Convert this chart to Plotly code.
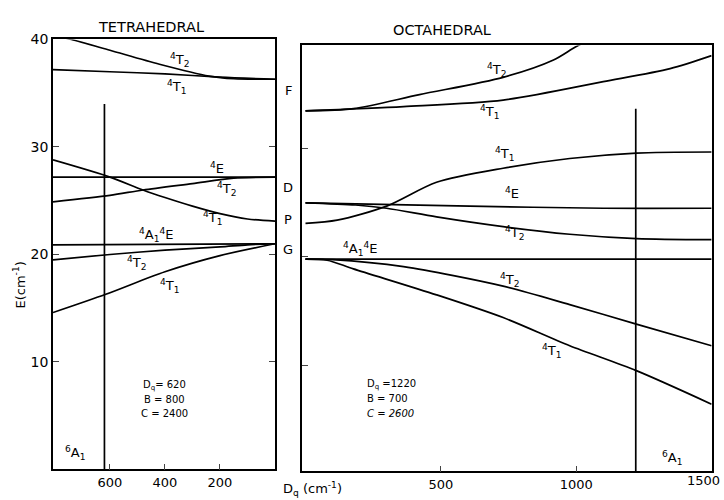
import plotly.graph_objects as go

# ---------------- Tetrahedral panel data (Dq decreasing to the right) ----------------
tet_T2_top_dq = [807, 740, 600, 420, 240, 150, 0]
tet_T2_top_E = [40.4, 40.0, 39.0, 37.7, 36.6, 36.35, 36.3]
tet_T1_top_dq = [807, 600, 400, 200, 0]
tet_T1_top_E = [37.2, 37.0, 36.8, 36.5, 36.3]
tet_E_dq = [807, 0]
tet_E_E = [27.2, 27.2]
tet_T1_mid_dq = [807, 600, 480, 400, 300, 200, 100, 0]
tet_T1_mid_E = [28.8, 27.2, 26.0, 25.3, 24.5, 23.8, 23.3, 23.1]
tet_T2_mid_dq = [807, 600, 480, 300, 150, 0]
tet_T2_mid_E = [24.9, 25.5, 26.0, 26.6, 27.1, 27.2]
tet_A1E_dq = [807, 0]
tet_A1E_E = [20.9, 21.0]
tet_T2_low_dq = [807, 600, 400, 200, 100, 0]
tet_T2_low_E = [19.5, 20.0, 20.4, 20.7, 20.9, 21.0]
tet_T1_low_dq = [807, 615, 400, 200, 0]
tet_T1_low_E = [14.6, 16.3, 18.4, 19.9, 21.0]
tet_vline_dq = [620, 620]
tet_vline_E = [0, 34.0]

# ---------------- Octahedral panel data ----------------
oct_T2_top_dq = [0, 177, 421, 730, 916, 997, 1060]
oct_T2_top_E = [33.5, 33.7, 35.0, 36.6, 38.2, 39.4, 40.2]
oct_T1_top_dq = [0, 362, 730, 1100, 1347, 1500]
oct_T1_top_E = [33.5, 33.9, 34.5, 36.2, 37.4, 38.6]
oct_T1_mid_dq = [0, 117, 300, 484, 730, 976, 1222, 1500]
oct_T1_mid_E = [23.1, 23.4, 24.7, 26.9, 28.2, 29.1, 29.6, 29.7]
oct_E_dq = [0, 607, 1100, 1500]
oct_E_E = [25.0, 24.7, 24.5, 24.5]
oct_T2_mid_dq = [0, 185, 300, 484, 730, 976, 1222, 1500]
oct_T2_mid_E = [25.0, 24.8, 24.5, 23.7, 22.8, 22.1, 21.7, 21.6]
oct_A1E_dq = [0, 1500]
oct_A1E_E = [19.8, 19.8]
oct_T2_low_dq = [0, 100, 362, 730, 976, 1222, 1500]
oct_T2_low_E = [19.8, 19.75, 19.1, 17.3, 15.6, 13.8, 11.8]
oct_T1_low_dq = [0, 80, 177, 484, 730, 976, 1222, 1500]
oct_T1_low_E = [19.8, 19.7, 18.9, 16.5, 14.4, 11.8, 9.5, 6.4]
oct_vline_dq = [1220, 1220]
oct_vline_E = [0, 33.7]

tet_xticks = [600, 400, 200]
tet_xticklabels = ["600", "400", "200"]
oct_xticks = [500, 1000, 1500]
oct_xticklabels = ["500", "1000", ""]
oct_last_tick = oct_xticks[-1]
tet_yticks = [10, 20, 30, 40]
tet_yticklabels = ["10", "20", "30", "40"]
oct_yticks = [10, 20, 30]

FONT = "DejaVu Sans"
LW = 1.7

fig = go.Figure()

tet_curves = [
    (tet_T2_top_dq, tet_T2_top_E), (tet_T1_top_dq, tet_T1_top_E),
    (tet_E_dq, tet_E_E), (tet_T1_mid_dq, tet_T1_mid_E),
    (tet_T2_mid_dq, tet_T2_mid_E), (tet_A1E_dq, tet_A1E_E),
    (tet_T2_low_dq, tet_T2_low_E), (tet_T1_low_dq, tet_T1_low_E),
    (tet_vline_dq, tet_vline_E),
]
for xs, ys in tet_curves:
    fig.add_trace(go.Scatter(x=xs, y=ys, mode="lines", xaxis="x", yaxis="y",
                             line=dict(color="black", width=LW, shape="spline", smoothing=0.8),
                             showlegend=False, hoverinfo="skip"))

oct_curves = [
    (oct_T2_top_dq, oct_T2_top_E), (oct_T1_top_dq, oct_T1_top_E),
    (oct_T1_mid_dq, oct_T1_mid_E), (oct_E_dq, oct_E_E),
    (oct_T2_mid_dq, oct_T2_mid_E), (oct_A1E_dq, oct_A1E_E),
    (oct_T2_low_dq, oct_T2_low_E), (oct_T1_low_dq, oct_T1_low_E),
    (oct_vline_dq, oct_vline_E),
]
for xs, ys in oct_curves:
    fig.add_trace(go.Scatter(x=xs, y=ys, mode="lines", xaxis="x2", yaxis="y2",
                             line=dict(color="black", width=LW, shape="spline", smoothing=0.8),
                             showlegend=False, hoverinfo="skip"))

ann = []
def lab(text, x, y, xref, yref, size=13, xanchor="center", align="center", angle=0):
    ann.append(dict(text=text, x=x, y=y, xref=xref, yref=yref, showarrow=False,
                    font=dict(family=FONT, size=size, color="black"),
                    xanchor=xanchor, yanchor="middle", align=align, textangle=angle))

T2 = "<sup>4</sup>T<sub>2</sub>"
T1 = "<sup>4</sup>T<sub>1</sub>"
E4 = "<sup>4</sup>E"
A1E = "<sup>4</sup>A<sub>1</sub><sup>4</sup>E"
A6 = "<sup>6</sup>A<sub>1</sub>"

# tetrahedral labels
lab(T2, 345, 38.1, "x", "y")
lab(T1, 356, 35.6, "x", "y")
lab(E4, 211, 28.0, "x", "y")
lab(T2, 175, 26.1, "x", "y")
lab(T1, 225, 23.4, "x", "y")
lab(A1E, 429, 21.8, "x", "y")
lab(T2, 502, 19.2, "x", "y")
lab(T1, 382, 17.1, "x", "y")
lab("D<sub>q</sub>= 620", 400, 7.8, "x", "y", size=10)
lab("B = 800", 400, 6.5, "x", "y", size=10)
lab("C = 2400", 400, 5.2, "x", "y", size=10)
lab(A6, 727, 1.5, "x", "y", size=13)

# octahedral labels
lab(T2, 708, 37.3, "x2", "y2")
lab(T1, 682, 33.4, "x2", "y2")
lab(T1, 738, 29.5, "x2", "y2")
lab(E4, 763, 25.9, "x2", "y2")
lab(T2, 774, 22.2, "x2", "y2")
lab(A1E, 202, 20.7, "x2", "y2")
lab(T2, 756, 17.9, "x2", "y2")
lab(T1, 911, 11.3, "x2", "y2")
lab("D<sub>q</sub> =1220", 220, 8.2, "x2", "y2", size=10, xanchor="left", align="left")
lab("B = 700", 220, 6.9, "x2", "y2", size=10, xanchor="left", align="left")
lab("<i>C = 2600</i>", 220, 5.5, "x2", "y2", size=10, xanchor="left", align="left")
lab(A6, 1355, 1.4, "x2", "y2", size=13)

# last tick label of the octahedral axis (kept inside the page)
ann.append(dict(text=str(oct_last_tick), x=oct_last_tick, y=1 - 480 / 500, xref="x2", yref="paper",
                showarrow=False, xanchor="right", xshift=10, yanchor="middle",
                font=dict(family=FONT, size=13, color="black")))

# term symbols between panels
for t, py in [("F", 84), ("D", 182), ("P", 215), ("G", 245)]:
    lab(t, 288 / 724, 1 - py / 500, "paper", "paper", size=13)

# titles
lab("TETRAHEDRAL", 151 / 724, 1 - 19 / 500, "paper", "paper", size=14.5)
lab("OCTAHEDRAL", 442 / 724, 1 - 22 / 500, "paper", "paper", size=14.5)
lab("E(cm<sup>-1</sup>)", 20 / 724, 1 - 282 / 500, "paper", "paper", size=13, angle=-90)
lab("D<sub>q</sub> (cm<sup>-1</sup>)", 312 / 724, 1 - 489 / 500, "paper", "paper", size=13)

fig.update_layout(
    width=724, height=500,
    margin=dict(l=0, r=0, t=0, b=0),
    paper_bgcolor="white", plot_bgcolor="white",
    font=dict(family=FONT, size=13, color="black"),
    annotations=ann,
    xaxis=dict(domain=[53 / 724, 275 / 724], range=[807, 0], tickvals=tet_xticks,
               ticktext=tet_xticklabels, ticks="inside", ticklen=6,
               tickwidth=1.4, showline=True, linecolor="black", linewidth=1.7,
               mirror=True, showgrid=False, zeroline=False, anchor="y",
               tickfont=dict(size=13)),
    yaxis=dict(domain=[1 - 469 / 500, 1 - 32 / 500], range=[0, 40], tickvals=tet_yticks,
               ticktext=tet_yticklabels, ticks="inside", ticklen=6,
               tickwidth=1.4, showline=True, linecolor="black", linewidth=1.7,
               mirror="ticks", showgrid=False, zeroline=False, anchor="x",
               tickfont=dict(size=14)),
    xaxis2=dict(domain=[301.7 / 724, 711.7 / 724], range=[-14, 1500.5], tickvals=oct_xticks,
                ticktext=oct_xticklabels, ticks="inside", ticklen=6,
                tickwidth=1.4, showline=True, linecolor="black", linewidth=1.7,
                mirror=True, showgrid=False, zeroline=False, anchor="y2",
                tickfont=dict(size=13)),
    yaxis2=dict(domain=[1 - 471 / 500, 1 - 38 / 500], range=[0.18, 39.55], tickvals=oct_yticks,
                showticklabels=False, ticks="inside", ticklen=6,
                tickwidth=1.4, showline=True, linecolor="black", linewidth=1.7,
                mirror=True, showgrid=False, zeroline=False, anchor="x2"),
)

fig.write_html("out.html")
